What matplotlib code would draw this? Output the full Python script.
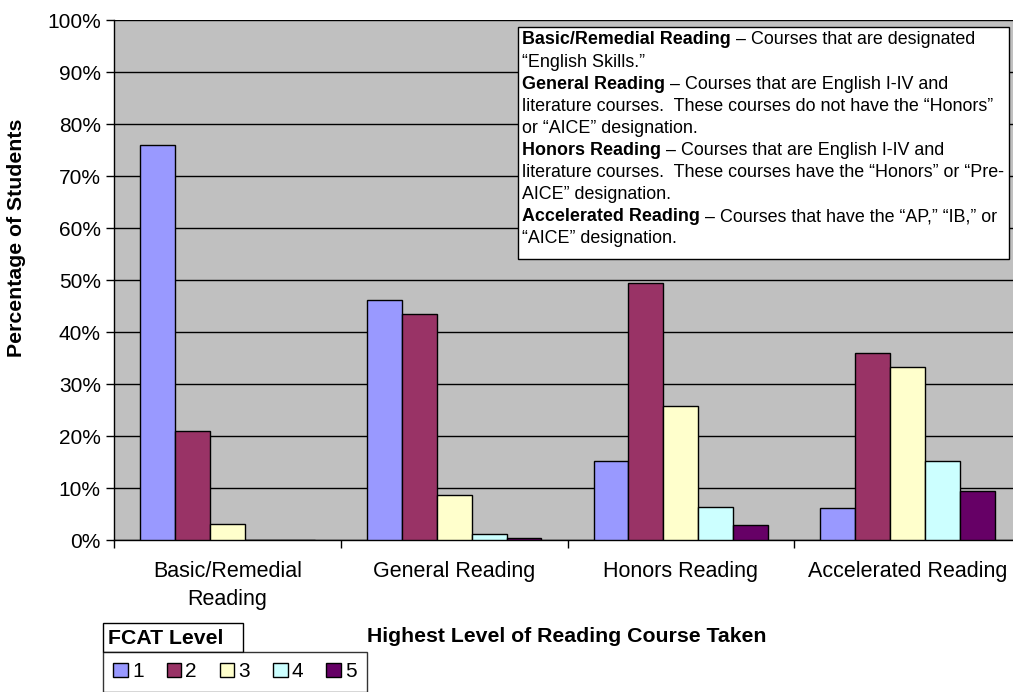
import numpy as np
import matplotlib
matplotlib.use('Agg')
import matplotlib.pyplot as plt
from matplotlib.patches import Rectangle
from matplotlib.text import Annotation

plt.rcParams['font.family'] = ['Liberation Sans', 'DejaVu Sans']

# data (percent of students per FCAT level)
categories = ['Basic/Remedial\nReading', 'General Reading', 'Honors Reading', 'Accelerated Reading']
levels = ['1', '2', '3', '4', '5']
level_1 = [75.9, 46.2, 15.1, 6.1]
level_2 = [21.0, 43.4, 49.5, 35.9]
level_3 = [3.0, 8.7, 25.8, 33.2]
level_4 = [0.0, 1.2, 6.4, 15.1]
level_5 = [0.0, 0.3, 2.9, 9.4]
colors = ['#9999FF', '#993366', '#FFFFCC', '#CCFFFF', '#660066']

notes = [
    ('Basic/Remedial Reading', ' \u2013 Courses that are designated'),
    ('', '\u201cEnglish Skills.\u201d'),
    ('General Reading', ' \u2013 Courses that are English I-IV and'),
    ('', 'literature courses.  These courses do not have the \u201cHonors\u201d'),
    ('', 'or \u201cAICE\u201d designation.'),
    ('Honors Reading', ' \u2013 Courses that are English I-IV and'),
    ('', 'literature courses.  These courses have the \u201cHonors\u201d or \u201cPre-'),
    ('', 'AICE\u201d designation.'),
    ('Accelerated Reading', ' \u2013 Courses that have the \u201cAP,\u201d \u201cIB,\u201d or'),
    ('', '\u201cAICE\u201d designation.'),
]

W, H = 1013, 692
fig = plt.figure(figsize=(W / 100, H / 100), dpi=100)


def fx(px):
    return px / W


def fy(py):
    return 1 - py / H


# plot area runs a bit past the right edge of the picture
ax = fig.add_axes([fx(114), fy(540), fx(1021 - 114), (540 - 20) / H])
ax.set_facecolor('#C0C0C0')

series = [level_1, level_2, level_3, level_4, level_5]
x = np.arange(len(categories)) + 0.5
bw = 0.154
bars = []
for k, vals in enumerate(series):
    b = ax.bar(x + (k - 2) * bw, vals, bw, color=colors[k], edgecolor='black',
               linewidth=1.0, zorder=3)
    bars.append(b)

ax.set_xlim(0, len(categories))
ax.set_ylim(0, 100)
ax.set_yticks(np.arange(0, 101, 10))
ax.set_yticklabels([f'{v}%' for v in range(0, 101, 10)], fontsize=15)
ax.yaxis.grid(True, color='black', linewidth=1.0, zorder=1)
ax.set_axisbelow(True)

ax.set_xticks(np.arange(len(categories) + 1))
ax.set_xticklabels([])
ax.set_xticks(x, minor=True)
ax.set_xticklabels(categories, minor=True, fontsize=15.5, linespacing=1.45)
ax.tick_params(axis='x', which='minor', length=0, pad=15)
ax.tick_params(axis='both', which='major', length=6, width=1, direction='out', colors='black')
for s in ['top', 'right']:
    ax.spines[s].set_visible(False)
ax.spines['left'].set_linewidth(1.0)
ax.spines['bottom'].set_linewidth(1.0)

# axis titles
fig.text(fx(17), fy(238), 'Percentage of Students', rotation=90, fontsize=15.3,
         fontweight='bold', ha='center', va='center')
fig.text(fx(567), fy(636), 'Highest Level of Reading Course Taken', fontsize=15.3,
         fontweight='bold', ha='center', va='center')

# definitions box
fig.patches.append(Rectangle((fx(518), fy(259)), fx(1009 - 518), (259 - 27) / H,
                             transform=fig.transFigure, facecolor='white',
                             edgecolor='black', linewidth=1.0, zorder=5))
y0 = 40
for i, (bold, rest) in enumerate(notes):
    yy = fy(y0 + i * 22.1)
    if bold:
        t = fig.text(fx(522), yy, bold, fontsize=12.85, fontweight='bold',
                     va='center', ha='left', zorder=6)
        fig.add_artist(Annotation(rest, xy=(1, 0.5), xycoords=t, va='center',
                                  ha='left', fontsize=12.85, zorder=6))
    else:
        fig.text(fx(522), yy, rest, fontsize=12.85, va='center', ha='left', zorder=6)

# legend
fig.patches.append(Rectangle((fx(103), fy(652)), fx(243 - 103), (652 - 623) / H,
                             transform=fig.transFigure, facecolor='white',
                             edgecolor='black', linewidth=1.0))
fig.text(fx(108), fy(638), 'FCAT Level', fontsize=15.3, fontweight='bold',
         ha='left', va='center')
leg = fig.legend([b[0] for b in bars], levels, loc='upper left',
                 bbox_to_anchor=(fx(103), fy(652)), ncol=5, fontsize=15,
                 frameon=True, fancybox=False, edgecolor='black',
                 handlelength=0.7, handleheight=0.7, handletextpad=0.2,
                 columnspacing=1.1, borderpad=0.5, borderaxespad=0)
leg.get_frame().set_linewidth(1.0)

fig.savefig('out.png', dpi=100)
